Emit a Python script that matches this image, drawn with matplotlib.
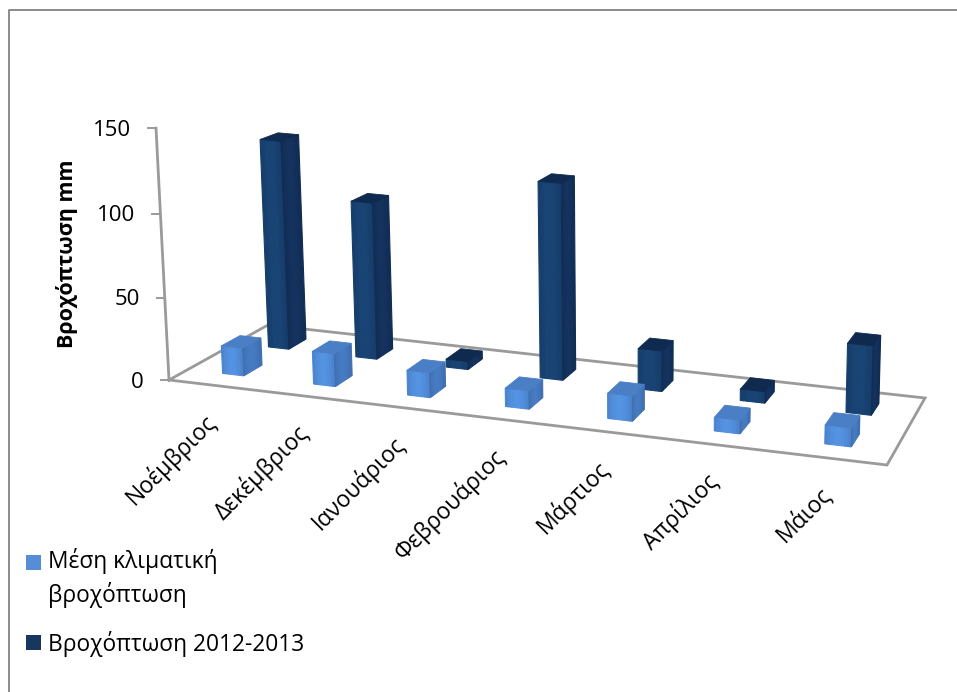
import numpy as np
import matplotlib
matplotlib.use('Agg')
import matplotlib.pyplot as plt
from matplotlib.patches import Polygon, Rectangle

plt.rcParams['font.family'] = ['Open Sans', 'Noto Sans', 'DejaVu Sans']

months = ['Νοέμβριος', 'Δεκέμβριος', 'Ιανουάριος', 'Φεβρουάριος', 'Μάρτιος', 'Απρίλιος', 'Μάιος']
climate_mean = [17, 20, 15, 11, 15, 8, 11]
rain_2012_13 = [131, 98, 5, 121, 25, 7, 42]
y_ticks = [0, 50, 100, 150]

series_names = ['Μέση κλιματική\nβροχόπτωση', 'Βροχόπτωση 2012-2013']
light = {'front': '#4f8ad6', 'side': '#4274b8', 'top': '#4a7fc6'}
dark = {'front': '#17406f', 'side': '#122f58', 'top': '#0f2a4e'}


# 3d chart box -> page pixels, floor plane from its four corners
def floor_matrix():
    src = [(0, 0), (7, 0), (7, 2), (0, 2)]
    dst = [(169, 380), (887, 465), (925, 398), (268, 325)]
    A, b = [], []
    for (x, y), (u, v) in zip(src, dst):
        A.append([x, y, 1, 0, 0, 0, -u * x, -u * y])
        A.append([0, 0, 0, x, y, 1, -v * x, -v * y])
        b += [u, v]
    return np.append(np.linalg.solve(np.array(A, float), np.array(b, float)), 1).reshape(3, 3)


H = floor_matrix()
vanish = np.array([640.0, 9508.0])
zc = -1.79e-4


def project(x, y, z=0):
    # categories bunch up a little more towards the left than the plain homography gives
    x = x - 0.11 * np.sin(np.pi * x / 7)
    u, v, w = H @ np.array([x, y, 1.0])
    return ((u + zc * vanish[0] * z) / (w + zc * z), (v + zc * vanish[1] * z) / (w + zc * z))


def shade(color, f):
    c = np.array(matplotlib.colors.to_rgb(color))
    return tuple(np.clip(c * f, 0, 1))


def face(ax, pts, color, zorder):
    # split the quad into strips so the face gets a soft gradient across it
    pts = np.array(pts)
    n = 8
    for i in range(n):
        a, b = i / n, (i + 1) / n
        q = [pts[0] + (pts[1] - pts[0]) * a, pts[0] + (pts[1] - pts[0]) * b,
             pts[3] + (pts[2] - pts[3]) * b, pts[3] + (pts[2] - pts[3]) * a]
        f = 0.94 + 0.12 * np.sin(np.pi * (i + 0.5) / n)
        c = shade(color, f)
        ax.add_patch(Polygon(q, closed=True, facecolor=c, edgecolor=c, lw=0.8, zorder=zorder))


def bar(ax, cat, y0, y1, val, col, zorder):
    x0, x1 = cat + 0.385, cat + 0.62
    face(ax, [project(x0, y0, val), project(x1, y0, val), project(x1, y0), project(x0, y0)], col['front'], zorder)
    face(ax, [project(x1, y0, val), project(x1, y1, val), project(x1, y1), project(x1, y0)], col['side'], zorder)
    ax.add_patch(Polygon([project(x0, y0, val), project(x1, y0, val), project(x1, y1, val), project(x0, y1, val)],
                         closed=True, facecolor=col['top'], edgecolor=col['top'], lw=0.6, zorder=zorder))


fig = plt.figure(figsize=(9.57, 6.92), dpi=100)
ax = fig.add_axes([0, 0, 1, 1])
ax.set_xlim(0, 957)
ax.set_ylim(692, 0)
ax.axis('off')

# chart area border, only left and top are visible
ax.plot([9, 9, 957], [692, 9.5, 9.5], color='#8a8a8a', lw=1.4)

grey = '#9a9a9a'
corners = [project(0, 0), project(7, 0), project(7, 2), project(0, 2), project(0, 0)]
ax.plot(*zip(*corners), color=grey, lw=2.0, zorder=1, solid_joinstyle='miter')

top = project(0, 0, max(y_ticks))
ax.plot([project(0, 0)[0], top[0]], [project(0, 0)[1], top[1]], color=grey, lw=2.0, zorder=1)
for t in y_ticks:
    px, py = project(0, 0, t)
    ax.plot([px - 8, px], [py, py], color=grey, lw=1.4, zorder=1)
    ax.text(px - 25, py + 2, str(t), ha='right', va='center', fontsize=16, color='black')

ax.text(67, 254, 'Βροχόπτωση mm', rotation=90, ha='center', va='center', fontsize=15.5, fontweight='bold')

for i, v in enumerate(rain_2012_13):
    bar(ax, i, 1.30, 1.68, v, dark, 3)
for i, v in enumerate(climate_mean):
    bar(ax, i, 0.36, 0.73, v, light, 4)

# rotated month labels, anchored at their upper right end below the front edge
for i, m in enumerate(months):
    px, py = project(i + 0.5, 0)
    ax.text(px - 2, py + 33, m, rotation=45, rotation_mode='anchor', ha='right', va='center', fontsize=16.5)

ax.add_patch(Rectangle((26, 555), 15, 15, facecolor='#558ed5', edgecolor='none'))
ax.add_patch(Rectangle((26, 635), 15, 15, facecolor='#17375e', edgecolor='none'))
ax.text(48, 578, series_names[0], ha='left', va='center', fontsize=16.4, linespacing=1.35)
ax.text(48, 644, series_names[1], ha='left', va='center', fontsize=16.4)

fig.savefig('out.png', dpi=100)
